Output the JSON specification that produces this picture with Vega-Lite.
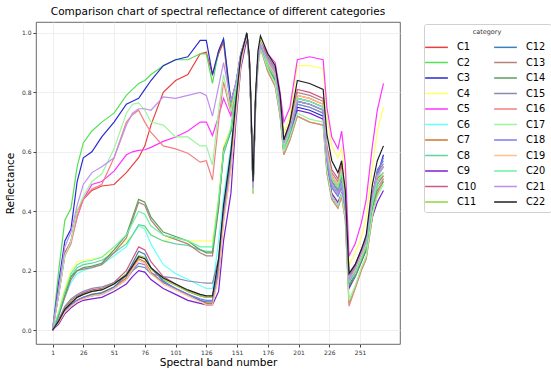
{
"$schema":"https://vega.github.io/schema/vega-lite/v6.json",
"width":364,"height":322,"autosize":"none",
"padding":{"left":36,"top":22,"right":151,"bottom":32},
"background":"white",
"title":{"text":"Comparison chart of spectral reflectance of different categories","fontSize":10.5,"font":"DejaVu Sans","fontWeight":"normal","color":"black","anchor":"middle","offset":5},
"config":{"view":{"stroke":"#444444","strokeWidth":0.8},"font":"DejaVu Sans"},
"data":{"values":[
{"c":"C1","b":1,"v":0},{"c":"C1","b":6,"v":0.12},{"c":"C1","b":11,"v":0.26},{"c":"C1","b":16,"v":0.30},{"c":"C1","b":21,"v":0.40},{"c":"C1","b":26,"v":0.44},{"c":"C1","b":33,"v":0.47},{"c":"C1","b":41,"v":0.485},{"c":"C1","b":51,"v":0.49},{"c":"C1","b":61,"v":0.53},{"c":"C1","b":66,"v":0.555},{"c":"C1","b":71,"v":0.58},{"c":"C1","b":76,"v":0.62},{"c":"C1","b":81,"v":0.69},{"c":"C1","b":91,"v":0.80},{"c":"C1","b":101,"v":0.84},{"c":"C1","b":111,"v":0.86},{"c":"C1","b":121,"v":0.93},{"c":"C1","b":126,"v":0.935},{"c":"C1","b":131,"v":0.86},{"c":"C1","b":136,"v":0.93},{"c":"C1","b":140,"v":0.97},{"c":"C1","b":146,"v":0.74},{"c":"C1","b":150,"v":0.82},{"c":"C1","b":154,"v":0.92},
{"c":"C1","b":159,"v":1.0},{"c":"C1","b":161,"v":0.91},{"c":"C1","b":162,"v":0.79},{"c":"C1","b":164,"v":0.48},{"c":"C1","b":166,"v":0.77},{"c":"C1","b":168,"v":0.92},{"c":"C1","b":170,"v":0.97},{"c":"C1","b":176,"v":0.90},{"c":"C1","b":182,"v":0.86},{"c":"C1","b":186,"v":0.76},{"c":"C1","b":189,"v":0.62},{"c":"C1","b":194,"v":0.68},{"c":"C1","b":200,"v":0.79},{"c":"C1","b":210,"v":0.78},{"c":"C1","b":221,"v":0.76},{"c":"C1","b":224,"v":0.60},{"c":"C1","b":228,"v":0.52},{"c":"C1","b":233,"v":0.49},{"c":"C1","b":236,"v":0.54},{"c":"C1","b":239,"v":0.44},{"c":"C1","b":242,"v":0.17},{"c":"C1","b":247,"v":0.20},{"c":"C1","b":252,"v":0.25},{"c":"C1","b":256,"v":0.29},{"c":"C1","b":261,"v":0.44},{"c":"C1","b":265,"v":0.52},{"c":"C1","b":270,"v":0.55},
{"c":"C2","b":1,"v":0},{"c":"C2","b":6,"v":0.20},{"c":"C2","b":11,"v":0.37},{"c":"C2","b":16,"v":0.41},{"c":"C2","b":21,"v":0.55},{"c":"C2","b":26,"v":0.63},{"c":"C2","b":33,"v":0.67},{"c":"C2","b":41,"v":0.70},{"c":"C2","b":51,"v":0.73},{"c":"C2","b":61,"v":0.79},{"c":"C2","b":66,"v":0.81},{"c":"C2","b":71,"v":0.83},{"c":"C2","b":76,"v":0.84},{"c":"C2","b":81,"v":0.86},{"c":"C2","b":91,"v":0.89},{"c":"C2","b":101,"v":0.91},{"c":"C2","b":111,"v":0.91},{"c":"C2","b":121,"v":0.93},{"c":"C2","b":126,"v":0.93},{"c":"C2","b":131,"v":0.83},{"c":"C2","b":136,"v":0.94},{"c":"C2","b":140,"v":0.98},{"c":"C2","b":146,"v":0.76},{"c":"C2","b":150,"v":0.83},{"c":"C2","b":154,"v":0.93},
{"c":"C2","b":159,"v":0.99},{"c":"C2","b":161,"v":0.89},{"c":"C2","b":162,"v":0.77},{"c":"C2","b":164,"v":0.46},{"c":"C2","b":166,"v":0.74},{"c":"C2","b":168,"v":0.89},{"c":"C2","b":170,"v":0.95},{"c":"C2","b":176,"v":0.87},{"c":"C2","b":182,"v":0.82},{"c":"C2","b":186,"v":0.72},{"c":"C2","b":189,"v":0.59},{"c":"C2","b":194,"v":0.64},{"c":"C2","b":200,"v":0.72},{"c":"C2","b":210,"v":0.70},{"c":"C2","b":221,"v":0.69},{"c":"C2","b":224,"v":0.53},{"c":"C2","b":228,"v":0.44},{"c":"C2","b":233,"v":0.41},{"c":"C2","b":236,"v":0.45},{"c":"C2","b":239,"v":0.37},{"c":"C2","b":242,"v":0.09},{"c":"C2","b":247,"v":0.14},{"c":"C2","b":252,"v":0.20},{"c":"C2","b":256,"v":0.24},{"c":"C2","b":261,"v":0.38},{"c":"C2","b":265,"v":0.46},{"c":"C2","b":270,"v":0.50},
{"c":"C3","b":1,"v":0},{"c":"C3","b":6,"v":0.16},{"c":"C3","b":11,"v":0.30},{"c":"C3","b":16,"v":0.34},{"c":"C3","b":21,"v":0.50},{"c":"C3","b":26,"v":0.58},{"c":"C3","b":33,"v":0.60},{"c":"C3","b":41,"v":0.65},{"c":"C3","b":51,"v":0.70},{"c":"C3","b":61,"v":0.76},{"c":"C3","b":66,"v":0.77},{"c":"C3","b":71,"v":0.78},{"c":"C3","b":76,"v":0.81},{"c":"C3","b":81,"v":0.84},{"c":"C3","b":91,"v":0.89},{"c":"C3","b":101,"v":0.91},{"c":"C3","b":111,"v":0.92},{"c":"C3","b":121,"v":0.975},{"c":"C3","b":126,"v":0.975},{"c":"C3","b":131,"v":0.86},{"c":"C3","b":136,"v":0.94},{"c":"C3","b":140,"v":0.98},{"c":"C3","b":146,"v":0.77},{"c":"C3","b":150,"v":0.83},{"c":"C3","b":154,"v":0.93},
{"c":"C3","b":159,"v":1.0},{"c":"C3","b":161,"v":0.90},{"c":"C3","b":162,"v":0.78},{"c":"C3","b":164,"v":0.48},{"c":"C3","b":166,"v":0.76},{"c":"C3","b":168,"v":0.91},{"c":"C3","b":170,"v":0.96},{"c":"C3","b":176,"v":0.89},{"c":"C3","b":182,"v":0.85},{"c":"C3","b":186,"v":0.74},{"c":"C3","b":189,"v":0.61},{"c":"C3","b":194,"v":0.66},{"c":"C3","b":200,"v":0.75},{"c":"C3","b":210,"v":0.74},{"c":"C3","b":221,"v":0.72},{"c":"C3","b":224,"v":0.56},{"c":"C3","b":228,"v":0.45},{"c":"C3","b":233,"v":0.42},{"c":"C3","b":236,"v":0.45},{"c":"C3","b":239,"v":0.40},{"c":"C3","b":242,"v":0.15},{"c":"C3","b":247,"v":0.19},{"c":"C3","b":252,"v":0.24},{"c":"C3","b":256,"v":0.28},{"c":"C3","b":261,"v":0.43},{"c":"C3","b":265,"v":0.52},{"c":"C3","b":270,"v":0.59},
{"c":"C4","b":1,"v":0},{"c":"C4","b":6,"v":0.06},{"c":"C4","b":11,"v":0.14},{"c":"C4","b":16,"v":0.20},{"c":"C4","b":21,"v":0.23},{"c":"C4","b":26,"v":0.235},{"c":"C4","b":33,"v":0.24},{"c":"C4","b":41,"v":0.245},{"c":"C4","b":51,"v":0.27},{"c":"C4","b":61,"v":0.30},{"c":"C4","b":66,"v":0.32},{"c":"C4","b":71,"v":0.35},{"c":"C4","b":76,"v":0.345},{"c":"C4","b":81,"v":0.32},{"c":"C4","b":91,"v":0.30},{"c":"C4","b":101,"v":0.31},{"c":"C4","b":111,"v":0.30},{"c":"C4","b":121,"v":0.30},{"c":"C4","b":126,"v":0.30},{"c":"C4","b":131,"v":0.30},{"c":"C4","b":136,"v":0.45},{"c":"C4","b":140,"v":0.62},{"c":"C4","b":146,"v":0.68},{"c":"C4","b":150,"v":0.80},{"c":"C4","b":154,"v":0.92},
{"c":"C4","b":159,"v":1.0},{"c":"C4","b":161,"v":0.91},{"c":"C4","b":162,"v":0.79},{"c":"C4","b":164,"v":0.49},{"c":"C4","b":166,"v":0.77},{"c":"C4","b":168,"v":0.92},{"c":"C4","b":170,"v":0.98},{"c":"C4","b":176,"v":0.92},{"c":"C4","b":182,"v":0.89},{"c":"C4","b":186,"v":0.78},{"c":"C4","b":189,"v":0.66},{"c":"C4","b":194,"v":0.72},{"c":"C4","b":200,"v":0.89},{"c":"C4","b":210,"v":0.89},{"c":"C4","b":221,"v":0.88},{"c":"C4","b":224,"v":0.72},{"c":"C4","b":228,"v":0.62},{"c":"C4","b":233,"v":0.58},{"c":"C4","b":236,"v":0.61},{"c":"C4","b":239,"v":0.52},{"c":"C4","b":242,"v":0.22},{"c":"C4","b":247,"v":0.26},{"c":"C4","b":252,"v":0.31},{"c":"C4","b":256,"v":0.38},{"c":"C4","b":261,"v":0.55},{"c":"C4","b":265,"v":0.67},{"c":"C4","b":270,"v":0.75},
{"c":"C5","b":1,"v":0},{"c":"C5","b":6,"v":0.12},{"c":"C5","b":11,"v":0.25},{"c":"C5","b":16,"v":0.30},{"c":"C5","b":21,"v":0.38},{"c":"C5","b":26,"v":0.44},{"c":"C5","b":33,"v":0.49},{"c":"C5","b":41,"v":0.50},{"c":"C5","b":51,"v":0.535},{"c":"C5","b":61,"v":0.59},{"c":"C5","b":66,"v":0.60},{"c":"C5","b":71,"v":0.605},{"c":"C5","b":76,"v":0.607},{"c":"C5","b":81,"v":0.615},{"c":"C5","b":91,"v":0.635},{"c":"C5","b":101,"v":0.65},{"c":"C5","b":111,"v":0.67},{"c":"C5","b":121,"v":0.70},{"c":"C5","b":126,"v":0.70},{"c":"C5","b":131,"v":0.655},{"c":"C5","b":136,"v":0.72},{"c":"C5","b":140,"v":0.78},{"c":"C5","b":146,"v":0.72},{"c":"C5","b":150,"v":0.81},{"c":"C5","b":154,"v":0.92},
{"c":"C5","b":159,"v":0.99},{"c":"C5","b":161,"v":0.90},{"c":"C5","b":162,"v":0.79},{"c":"C5","b":164,"v":0.50},{"c":"C5","b":166,"v":0.77},{"c":"C5","b":168,"v":0.92},{"c":"C5","b":170,"v":0.97},{"c":"C5","b":176,"v":0.93},{"c":"C5","b":182,"v":0.90},{"c":"C5","b":186,"v":0.80},{"c":"C5","b":189,"v":0.70},{"c":"C5","b":194,"v":0.75},{"c":"C5","b":200,"v":0.91},{"c":"C5","b":210,"v":0.92},{"c":"C5","b":221,"v":0.91},{"c":"C5","b":224,"v":0.75},{"c":"C5","b":228,"v":0.65},{"c":"C5","b":233,"v":0.61},{"c":"C5","b":236,"v":0.67},{"c":"C5","b":239,"v":0.56},{"c":"C5","b":242,"v":0.25},{"c":"C5","b":247,"v":0.29},{"c":"C5","b":252,"v":0.36},{"c":"C5","b":256,"v":0.44},{"c":"C5","b":261,"v":0.62},{"c":"C5","b":265,"v":0.74},{"c":"C5","b":270,"v":0.83},
{"c":"C6","b":1,"v":0},{"c":"C6","b":6,"v":0.05},{"c":"C6","b":11,"v":0.11},{"c":"C6","b":16,"v":0.16},{"c":"C6","b":21,"v":0.19},{"c":"C6","b":26,"v":0.20},{"c":"C6","b":33,"v":0.21},{"c":"C6","b":41,"v":0.22},{"c":"C6","b":51,"v":0.25},{"c":"C6","b":61,"v":0.28},{"c":"C6","b":66,"v":0.32},{"c":"C6","b":71,"v":0.35},{"c":"C6","b":76,"v":0.34},{"c":"C6","b":81,"v":0.29},{"c":"C6","b":91,"v":0.22},{"c":"C6","b":101,"v":0.19},{"c":"C6","b":111,"v":0.17},{"c":"C6","b":121,"v":0.15},{"c":"C6","b":126,"v":0.14},{"c":"C6","b":131,"v":0.14},{"c":"C6","b":136,"v":0.30},{"c":"C6","b":140,"v":0.45},{"c":"C6","b":146,"v":0.62},{"c":"C6","b":150,"v":0.76},{"c":"C6","b":154,"v":0.91},
{"c":"C6","b":159,"v":1.0},{"c":"C6","b":161,"v":0.90},{"c":"C6","b":162,"v":0.78},{"c":"C6","b":164,"v":0.48},{"c":"C6","b":166,"v":0.76},{"c":"C6","b":168,"v":0.91},{"c":"C6","b":170,"v":0.96},{"c":"C6","b":176,"v":0.91},{"c":"C6","b":182,"v":0.87},{"c":"C6","b":186,"v":0.76},{"c":"C6","b":189,"v":0.63},{"c":"C6","b":194,"v":0.68},{"c":"C6","b":200,"v":0.77},{"c":"C6","b":210,"v":0.76},{"c":"C6","b":221,"v":0.74},{"c":"C6","b":224,"v":0.58},{"c":"C6","b":228,"v":0.49},{"c":"C6","b":233,"v":0.46},{"c":"C6","b":236,"v":0.49},{"c":"C6","b":239,"v":0.42},{"c":"C6","b":242,"v":0.17},{"c":"C6","b":247,"v":0.21},{"c":"C6","b":252,"v":0.26},{"c":"C6","b":256,"v":0.30},{"c":"C6","b":261,"v":0.45},{"c":"C6","b":265,"v":0.51},{"c":"C6","b":270,"v":0.55},
{"c":"C7","b":1,"v":0},{"c":"C7","b":6,"v":0.025},{"c":"C7","b":11,"v":0.06},{"c":"C7","b":16,"v":0.085},{"c":"C7","b":21,"v":0.10},{"c":"C7","b":26,"v":0.11},{"c":"C7","b":33,"v":0.12},{"c":"C7","b":41,"v":0.125},{"c":"C7","b":51,"v":0.145},{"c":"C7","b":61,"v":0.175},{"c":"C7","b":66,"v":0.21},{"c":"C7","b":71,"v":0.24},{"c":"C7","b":76,"v":0.23},{"c":"C7","b":81,"v":0.195},{"c":"C7","b":91,"v":0.16},{"c":"C7","b":101,"v":0.14},{"c":"C7","b":111,"v":0.12},{"c":"C7","b":121,"v":0.10},{"c":"C7","b":126,"v":0.09},{"c":"C7","b":131,"v":0.09},{"c":"C7","b":136,"v":0.19},{"c":"C7","b":140,"v":0.37},{"c":"C7","b":146,"v":0.55},{"c":"C7","b":150,"v":0.73},{"c":"C7","b":154,"v":0.90},
{"c":"C7","b":159,"v":1.0},{"c":"C7","b":161,"v":0.91},{"c":"C7","b":162,"v":0.79},{"c":"C7","b":164,"v":0.48},{"c":"C7","b":166,"v":0.77},{"c":"C7","b":168,"v":0.92},{"c":"C7","b":170,"v":0.97},{"c":"C7","b":176,"v":0.89},{"c":"C7","b":182,"v":0.85},{"c":"C7","b":186,"v":0.75},{"c":"C7","b":189,"v":0.61},{"c":"C7","b":194,"v":0.67},{"c":"C7","b":200,"v":0.78},{"c":"C7","b":210,"v":0.77},{"c":"C7","b":221,"v":0.75},{"c":"C7","b":224,"v":0.59},{"c":"C7","b":228,"v":0.51},{"c":"C7","b":233,"v":0.48},{"c":"C7","b":236,"v":0.53},{"c":"C7","b":239,"v":0.43},{"c":"C7","b":242,"v":0.16},{"c":"C7","b":247,"v":0.19},{"c":"C7","b":252,"v":0.24},{"c":"C7","b":256,"v":0.28},{"c":"C7","b":261,"v":0.43},{"c":"C7","b":265,"v":0.51},{"c":"C7","b":270,"v":0.53},
{"c":"C8","b":1,"v":0},{"c":"C8","b":6,"v":0.05},{"c":"C8","b":11,"v":0.12},{"c":"C8","b":16,"v":0.18},{"c":"C8","b":21,"v":0.21},{"c":"C8","b":26,"v":0.22},{"c":"C8","b":33,"v":0.225},{"c":"C8","b":41,"v":0.235},{"c":"C8","b":51,"v":0.26},{"c":"C8","b":61,"v":0.29},{"c":"C8","b":66,"v":0.32},{"c":"C8","b":71,"v":0.355},{"c":"C8","b":76,"v":0.35},{"c":"C8","b":81,"v":0.32},{"c":"C8","b":91,"v":0.30},{"c":"C8","b":101,"v":0.29},{"c":"C8","b":111,"v":0.285},{"c":"C8","b":121,"v":0.27},{"c":"C8","b":126,"v":0.265},{"c":"C8","b":131,"v":0.265},{"c":"C8","b":136,"v":0.43},{"c":"C8","b":140,"v":0.59},{"c":"C8","b":146,"v":0.67},{"c":"C8","b":150,"v":0.80},{"c":"C8","b":154,"v":0.92},
{"c":"C8","b":159,"v":1.0},{"c":"C8","b":161,"v":0.91},{"c":"C8","b":162,"v":0.79},{"c":"C8","b":164,"v":0.48},{"c":"C8","b":166,"v":0.77},{"c":"C8","b":168,"v":0.92},{"c":"C8","b":170,"v":0.97},{"c":"C8","b":176,"v":0.88},{"c":"C8","b":182,"v":0.84},{"c":"C8","b":186,"v":0.74},{"c":"C8","b":189,"v":0.60},{"c":"C8","b":194,"v":0.66},{"c":"C8","b":200,"v":0.77},{"c":"C8","b":210,"v":0.76},{"c":"C8","b":221,"v":0.74},{"c":"C8","b":224,"v":0.58},{"c":"C8","b":228,"v":0.50},{"c":"C8","b":233,"v":0.47},{"c":"C8","b":236,"v":0.52},{"c":"C8","b":239,"v":0.42},{"c":"C8","b":242,"v":0.15},{"c":"C8","b":247,"v":0.18},{"c":"C8","b":252,"v":0.23},{"c":"C8","b":256,"v":0.27},{"c":"C8","b":261,"v":0.42},{"c":"C8","b":265,"v":0.48},{"c":"C8","b":270,"v":0.51},
{"c":"C9","b":1,"v":0},{"c":"C9","b":6,"v":0.02},{"c":"C9","b":11,"v":0.055},{"c":"C9","b":16,"v":0.075},{"c":"C9","b":21,"v":0.09},{"c":"C9","b":26,"v":0.10},{"c":"C9","b":33,"v":0.105},{"c":"C9","b":41,"v":0.11},{"c":"C9","b":51,"v":0.13},{"c":"C9","b":61,"v":0.155},{"c":"C9","b":66,"v":0.18},{"c":"C9","b":71,"v":0.20},{"c":"C9","b":76,"v":0.195},{"c":"C9","b":81,"v":0.17},{"c":"C9","b":91,"v":0.14},{"c":"C9","b":101,"v":0.12},{"c":"C9","b":111,"v":0.10},{"c":"C9","b":121,"v":0.09},{"c":"C9","b":126,"v":0.085},{"c":"C9","b":131,"v":0.085},{"c":"C9","b":136,"v":0.13},{"c":"C9","b":140,"v":0.30},{"c":"C9","b":146,"v":0.46},{"c":"C9","b":150,"v":0.70},{"c":"C9","b":154,"v":0.88},
{"c":"C9","b":159,"v":0.98},{"c":"C9","b":161,"v":0.90},{"c":"C9","b":162,"v":0.78},{"c":"C9","b":164,"v":0.48},{"c":"C9","b":166,"v":0.76},{"c":"C9","b":168,"v":0.91},{"c":"C9","b":170,"v":0.96},{"c":"C9","b":176,"v":0.88},{"c":"C9","b":182,"v":0.84},{"c":"C9","b":186,"v":0.73},{"c":"C9","b":189,"v":0.60},{"c":"C9","b":194,"v":0.65},{"c":"C9","b":200,"v":0.74},{"c":"C9","b":210,"v":0.73},{"c":"C9","b":221,"v":0.71},{"c":"C9","b":224,"v":0.55},{"c":"C9","b":228,"v":0.46},{"c":"C9","b":233,"v":0.43},{"c":"C9","b":236,"v":0.46},{"c":"C9","b":239,"v":0.39},{"c":"C9","b":242,"v":0.14},{"c":"C9","b":247,"v":0.18},{"c":"C9","b":252,"v":0.23},{"c":"C9","b":256,"v":0.27},{"c":"C9","b":261,"v":0.38},{"c":"C9","b":265,"v":0.43},{"c":"C9","b":270,"v":0.47},
{"c":"C10","b":1,"v":0},{"c":"C10","b":6,"v":0.035},{"c":"C10","b":11,"v":0.075},{"c":"C10","b":16,"v":0.10},{"c":"C10","b":21,"v":0.115},{"c":"C10","b":26,"v":0.125},{"c":"C10","b":33,"v":0.135},{"c":"C10","b":41,"v":0.14},{"c":"C10","b":51,"v":0.16},{"c":"C10","b":61,"v":0.20},{"c":"C10","b":66,"v":0.24},{"c":"C10","b":71,"v":0.28},{"c":"C10","b":76,"v":0.27},{"c":"C10","b":81,"v":0.23},{"c":"C10","b":91,"v":0.18},{"c":"C10","b":101,"v":0.155},{"c":"C10","b":111,"v":0.13},{"c":"C10","b":121,"v":0.115},{"c":"C10","b":126,"v":0.11},{"c":"C10","b":131,"v":0.11},{"c":"C10","b":136,"v":0.22},{"c":"C10","b":140,"v":0.40},{"c":"C10","b":146,"v":0.58},{"c":"C10","b":150,"v":0.75},{"c":"C10","b":154,"v":0.91},
{"c":"C10","b":159,"v":1.0},{"c":"C10","b":161,"v":0.91},{"c":"C10","b":162,"v":0.79},{"c":"C10","b":164,"v":0.48},{"c":"C10","b":166,"v":0.77},{"c":"C10","b":168,"v":0.92},{"c":"C10","b":170,"v":0.97},{"c":"C10","b":176,"v":0.92},{"c":"C10","b":182,"v":0.88},{"c":"C10","b":186,"v":0.78},{"c":"C10","b":189,"v":0.64},{"c":"C10","b":194,"v":0.70},{"c":"C10","b":200,"v":0.81},{"c":"C10","b":210,"v":0.80},{"c":"C10","b":221,"v":0.78},{"c":"C10","b":224,"v":0.62},{"c":"C10","b":228,"v":0.54},{"c":"C10","b":233,"v":0.51},{"c":"C10","b":236,"v":0.56},{"c":"C10","b":239,"v":0.46},{"c":"C10","b":242,"v":0.19},{"c":"C10","b":247,"v":0.22},{"c":"C10","b":252,"v":0.27},{"c":"C10","b":256,"v":0.31},{"c":"C10","b":261,"v":0.46},{"c":"C10","b":265,"v":0.52},{"c":"C10","b":270,"v":0.55},
{"c":"C11","b":1,"v":0},{"c":"C11","b":6,"v":0.03},{"c":"C11","b":11,"v":0.07},{"c":"C11","b":16,"v":0.095},{"c":"C11","b":21,"v":0.11},{"c":"C11","b":26,"v":0.12},{"c":"C11","b":33,"v":0.13},{"c":"C11","b":41,"v":0.135},{"c":"C11","b":51,"v":0.155},{"c":"C11","b":61,"v":0.19},{"c":"C11","b":66,"v":0.22},{"c":"C11","b":71,"v":0.25},{"c":"C11","b":76,"v":0.245},{"c":"C11","b":81,"v":0.205},{"c":"C11","b":91,"v":0.17},{"c":"C11","b":101,"v":0.15},{"c":"C11","b":111,"v":0.13},{"c":"C11","b":121,"v":0.115},{"c":"C11","b":126,"v":0.11},{"c":"C11","b":131,"v":0.11},{"c":"C11","b":136,"v":0.21},{"c":"C11","b":140,"v":0.39},{"c":"C11","b":146,"v":0.57},{"c":"C11","b":150,"v":0.75},{"c":"C11","b":154,"v":0.91},
{"c":"C11","b":159,"v":1.0},{"c":"C11","b":161,"v":0.90},{"c":"C11","b":162,"v":0.78},{"c":"C11","b":164,"v":0.48},{"c":"C11","b":166,"v":0.76},{"c":"C11","b":168,"v":0.91},{"c":"C11","b":170,"v":0.96},{"c":"C11","b":176,"v":0.90},{"c":"C11","b":182,"v":0.86},{"c":"C11","b":186,"v":0.75},{"c":"C11","b":189,"v":0.62},{"c":"C11","b":194,"v":0.67},{"c":"C11","b":200,"v":0.76},{"c":"C11","b":210,"v":0.75},{"c":"C11","b":221,"v":0.73},{"c":"C11","b":224,"v":0.57},{"c":"C11","b":228,"v":0.48},{"c":"C11","b":233,"v":0.45},{"c":"C11","b":236,"v":0.48},{"c":"C11","b":239,"v":0.41},{"c":"C11","b":242,"v":0.16},{"c":"C11","b":247,"v":0.20},{"c":"C11","b":252,"v":0.25},{"c":"C11","b":256,"v":0.29},{"c":"C11","b":261,"v":0.44},{"c":"C11","b":265,"v":0.50},{"c":"C11","b":270,"v":0.52},
{"c":"C12","b":1,"v":0},{"c":"C12","b":6,"v":0.03},{"c":"C12","b":11,"v":0.065},{"c":"C12","b":16,"v":0.085},{"c":"C12","b":21,"v":0.10},{"c":"C12","b":26,"v":0.11},{"c":"C12","b":33,"v":0.12},{"c":"C12","b":41,"v":0.125},{"c":"C12","b":51,"v":0.145},{"c":"C12","b":61,"v":0.185},{"c":"C12","b":66,"v":0.225},{"c":"C12","b":71,"v":0.265},{"c":"C12","b":76,"v":0.255},{"c":"C12","b":81,"v":0.21},{"c":"C12","b":91,"v":0.165},{"c":"C12","b":101,"v":0.14},{"c":"C12","b":111,"v":0.12},{"c":"C12","b":121,"v":0.10},{"c":"C12","b":126,"v":0.095},{"c":"C12","b":131,"v":0.095},{"c":"C12","b":136,"v":0.21},{"c":"C12","b":140,"v":0.39},{"c":"C12","b":146,"v":0.57},{"c":"C12","b":150,"v":0.75},{"c":"C12","b":154,"v":0.91},
{"c":"C12","b":159,"v":1.0},{"c":"C12","b":161,"v":0.90},{"c":"C12","b":162,"v":0.78},{"c":"C12","b":164,"v":0.48},{"c":"C12","b":166,"v":0.76},{"c":"C12","b":168,"v":0.91},{"c":"C12","b":170,"v":0.96},{"c":"C12","b":176,"v":0.91},{"c":"C12","b":182,"v":0.87},{"c":"C12","b":186,"v":0.76},{"c":"C12","b":189,"v":0.63},{"c":"C12","b":194,"v":0.68},{"c":"C12","b":200,"v":0.77},{"c":"C12","b":210,"v":0.76},{"c":"C12","b":221,"v":0.74},{"c":"C12","b":224,"v":0.58},{"c":"C12","b":228,"v":0.49},{"c":"C12","b":233,"v":0.46},{"c":"C12","b":236,"v":0.49},{"c":"C12","b":239,"v":0.42},{"c":"C12","b":242,"v":0.17},{"c":"C12","b":247,"v":0.21},{"c":"C12","b":252,"v":0.26},{"c":"C12","b":256,"v":0.30},{"c":"C12","b":261,"v":0.45},{"c":"C12","b":265,"v":0.54},{"c":"C12","b":270,"v":0.57},
{"c":"C13","b":1,"v":0},{"c":"C13","b":6,"v":0.05},{"c":"C13","b":11,"v":0.11},{"c":"C13","b":16,"v":0.17},{"c":"C13","b":21,"v":0.20},{"c":"C13","b":26,"v":0.205},{"c":"C13","b":33,"v":0.21},{"c":"C13","b":41,"v":0.22},{"c":"C13","b":51,"v":0.26},{"c":"C13","b":61,"v":0.31},{"c":"C13","b":66,"v":0.37},{"c":"C13","b":71,"v":0.43},{"c":"C13","b":76,"v":0.42},{"c":"C13","b":81,"v":0.37},{"c":"C13","b":91,"v":0.32},{"c":"C13","b":101,"v":0.305},{"c":"C13","b":111,"v":0.29},{"c":"C13","b":121,"v":0.26},{"c":"C13","b":126,"v":0.25},{"c":"C13","b":131,"v":0.25},{"c":"C13","b":136,"v":0.41},{"c":"C13","b":140,"v":0.61},{"c":"C13","b":146,"v":0.67},{"c":"C13","b":150,"v":0.80},{"c":"C13","b":154,"v":0.92},
{"c":"C13","b":159,"v":1.0},{"c":"C13","b":161,"v":0.91},{"c":"C13","b":162,"v":0.79},{"c":"C13","b":164,"v":0.48},{"c":"C13","b":166,"v":0.77},{"c":"C13","b":168,"v":0.92},{"c":"C13","b":170,"v":0.97},{"c":"C13","b":176,"v":0.91},{"c":"C13","b":182,"v":0.87},{"c":"C13","b":186,"v":0.77},{"c":"C13","b":189,"v":0.63},{"c":"C13","b":194,"v":0.69},{"c":"C13","b":200,"v":0.80},{"c":"C13","b":210,"v":0.79},{"c":"C13","b":221,"v":0.77},{"c":"C13","b":224,"v":0.61},{"c":"C13","b":228,"v":0.53},{"c":"C13","b":233,"v":0.50},{"c":"C13","b":236,"v":0.55},{"c":"C13","b":239,"v":0.45},{"c":"C13","b":242,"v":0.18},{"c":"C13","b":247,"v":0.21},{"c":"C13","b":252,"v":0.26},{"c":"C13","b":256,"v":0.30},{"c":"C13","b":261,"v":0.45},{"c":"C13","b":265,"v":0.49},{"c":"C13","b":270,"v":0.52},
{"c":"C14","b":1,"v":0},{"c":"C14","b":6,"v":0.05},{"c":"C14","b":11,"v":0.12},{"c":"C14","b":16,"v":0.18},{"c":"C14","b":21,"v":0.20},{"c":"C14","b":26,"v":0.21},{"c":"C14","b":33,"v":0.215},{"c":"C14","b":41,"v":0.225},{"c":"C14","b":51,"v":0.27},{"c":"C14","b":61,"v":0.32},{"c":"C14","b":66,"v":0.38},{"c":"C14","b":71,"v":0.44},{"c":"C14","b":76,"v":0.43},{"c":"C14","b":81,"v":0.38},{"c":"C14","b":91,"v":0.33},{"c":"C14","b":101,"v":0.315},{"c":"C14","b":111,"v":0.30},{"c":"C14","b":121,"v":0.27},{"c":"C14","b":126,"v":0.26},{"c":"C14","b":131,"v":0.26},{"c":"C14","b":136,"v":0.42},{"c":"C14","b":140,"v":0.60},{"c":"C14","b":146,"v":0.67},{"c":"C14","b":150,"v":0.80},{"c":"C14","b":154,"v":0.92},
{"c":"C14","b":159,"v":1.0},{"c":"C14","b":161,"v":0.91},{"c":"C14","b":162,"v":0.79},{"c":"C14","b":164,"v":0.48},{"c":"C14","b":166,"v":0.77},{"c":"C14","b":168,"v":0.92},{"c":"C14","b":170,"v":0.97},{"c":"C14","b":176,"v":0.88},{"c":"C14","b":182,"v":0.84},{"c":"C14","b":186,"v":0.74},{"c":"C14","b":189,"v":0.60},{"c":"C14","b":194,"v":0.66},{"c":"C14","b":200,"v":0.77},{"c":"C14","b":210,"v":0.76},{"c":"C14","b":221,"v":0.74},{"c":"C14","b":224,"v":0.58},{"c":"C14","b":228,"v":0.50},{"c":"C14","b":233,"v":0.47},{"c":"C14","b":236,"v":0.52},{"c":"C14","b":239,"v":0.42},{"c":"C14","b":242,"v":0.15},{"c":"C14","b":247,"v":0.18},{"c":"C14","b":252,"v":0.23},{"c":"C14","b":256,"v":0.27},{"c":"C14","b":261,"v":0.41},{"c":"C14","b":265,"v":0.47},{"c":"C14","b":270,"v":0.50},
{"c":"C15","b":1,"v":0},{"c":"C15","b":6,"v":0.035},{"c":"C15","b":11,"v":0.08},{"c":"C15","b":16,"v":0.105},{"c":"C15","b":21,"v":0.12},{"c":"C15","b":26,"v":0.13},{"c":"C15","b":33,"v":0.14},{"c":"C15","b":41,"v":0.145},{"c":"C15","b":51,"v":0.16},{"c":"C15","b":61,"v":0.18},{"c":"C15","b":66,"v":0.20},{"c":"C15","b":71,"v":0.215},{"c":"C15","b":76,"v":0.21},{"c":"C15","b":81,"v":0.19},{"c":"C15","b":91,"v":0.18},{"c":"C15","b":101,"v":0.175},{"c":"C15","b":111,"v":0.165},{"c":"C15","b":121,"v":0.16},{"c":"C15","b":126,"v":0.158},{"c":"C15","b":131,"v":0.158},{"c":"C15","b":136,"v":0.24},{"c":"C15","b":140,"v":0.40},{"c":"C15","b":146,"v":0.58},{"c":"C15","b":150,"v":0.76},{"c":"C15","b":154,"v":0.91},
{"c":"C15","b":159,"v":1.0},{"c":"C15","b":161,"v":0.90},{"c":"C15","b":162,"v":0.78},{"c":"C15","b":164,"v":0.48},{"c":"C15","b":166,"v":0.76},{"c":"C15","b":168,"v":0.91},{"c":"C15","b":170,"v":0.96},{"c":"C15","b":176,"v":0.92},{"c":"C15","b":182,"v":0.88},{"c":"C15","b":186,"v":0.77},{"c":"C15","b":189,"v":0.64},{"c":"C15","b":194,"v":0.69},{"c":"C15","b":200,"v":0.78},{"c":"C15","b":210,"v":0.77},{"c":"C15","b":221,"v":0.75},{"c":"C15","b":224,"v":0.59},{"c":"C15","b":228,"v":0.50},{"c":"C15","b":233,"v":0.47},{"c":"C15","b":236,"v":0.50},{"c":"C15","b":239,"v":0.43},{"c":"C15","b":242,"v":0.18},{"c":"C15","b":247,"v":0.22},{"c":"C15","b":252,"v":0.27},{"c":"C15","b":256,"v":0.31},{"c":"C15","b":261,"v":0.46},{"c":"C15","b":265,"v":0.53},{"c":"C15","b":270,"v":0.56},
{"c":"C16","b":1,"v":0},{"c":"C16","b":6,"v":0.12},{"c":"C16","b":11,"v":0.25},{"c":"C16","b":16,"v":0.29},{"c":"C16","b":21,"v":0.38},{"c":"C16","b":26,"v":0.44},{"c":"C16","b":33,"v":0.475},{"c":"C16","b":41,"v":0.49},{"c":"C16","b":51,"v":0.58},{"c":"C16","b":61,"v":0.70},{"c":"C16","b":66,"v":0.725},{"c":"C16","b":71,"v":0.74},{"c":"C16","b":76,"v":0.70},{"c":"C16","b":81,"v":0.665},{"c":"C16","b":91,"v":0.62},{"c":"C16","b":101,"v":0.61},{"c":"C16","b":111,"v":0.595},{"c":"C16","b":121,"v":0.565},{"c":"C16","b":126,"v":0.57},{"c":"C16","b":131,"v":0.505},{"c":"C16","b":136,"v":0.70},{"c":"C16","b":140,"v":0.835},{"c":"C16","b":146,"v":0.73},{"c":"C16","b":150,"v":0.82},{"c":"C16","b":154,"v":0.92},
{"c":"C16","b":159,"v":0.99},{"c":"C16","b":161,"v":0.89},{"c":"C16","b":162,"v":0.77},{"c":"C16","b":164,"v":0.46},{"c":"C16","b":166,"v":0.74},{"c":"C16","b":168,"v":0.89},{"c":"C16","b":170,"v":0.95},{"c":"C16","b":176,"v":0.87},{"c":"C16","b":182,"v":0.82},{"c":"C16","b":186,"v":0.72},{"c":"C16","b":189,"v":0.59},{"c":"C16","b":194,"v":0.64},{"c":"C16","b":200,"v":0.72},{"c":"C16","b":210,"v":0.70},{"c":"C16","b":221,"v":0.69},{"c":"C16","b":224,"v":0.53},{"c":"C16","b":228,"v":0.44},{"c":"C16","b":233,"v":0.41},{"c":"C16","b":236,"v":0.45},{"c":"C16","b":239,"v":0.37},{"c":"C16","b":242,"v":0.08},{"c":"C16","b":247,"v":0.14},{"c":"C16","b":252,"v":0.20},{"c":"C16","b":256,"v":0.24},{"c":"C16","b":261,"v":0.38},{"c":"C16","b":265,"v":0.46},{"c":"C16","b":270,"v":0.51},
{"c":"C17","b":1,"v":0},{"c":"C17","b":6,"v":0.12},{"c":"C17","b":11,"v":0.25},{"c":"C17","b":16,"v":0.30},{"c":"C17","b":21,"v":0.40},{"c":"C17","b":26,"v":0.45},{"c":"C17","b":33,"v":0.50},{"c":"C17","b":41,"v":0.525},{"c":"C17","b":51,"v":0.61},{"c":"C17","b":61,"v":0.73},{"c":"C17","b":66,"v":0.76},{"c":"C17","b":71,"v":0.765},{"c":"C17","b":76,"v":0.74},{"c":"C17","b":81,"v":0.70},{"c":"C17","b":91,"v":0.69},{"c":"C17","b":101,"v":0.65},{"c":"C17","b":111,"v":0.65},{"c":"C17","b":121,"v":0.62},{"c":"C17","b":126,"v":0.62},{"c":"C17","b":131,"v":0.555},{"c":"C17","b":136,"v":0.74},{"c":"C17","b":140,"v":0.86},{"c":"C17","b":146,"v":0.735},{"c":"C17","b":150,"v":0.82},{"c":"C17","b":154,"v":0.92},
{"c":"C17","b":159,"v":0.99},{"c":"C17","b":161,"v":0.89},{"c":"C17","b":162,"v":0.77},{"c":"C17","b":164,"v":0.46},{"c":"C17","b":166,"v":0.74},{"c":"C17","b":168,"v":0.89},{"c":"C17","b":170,"v":0.95},{"c":"C17","b":176,"v":0.88},{"c":"C17","b":182,"v":0.83},{"c":"C17","b":186,"v":0.73},{"c":"C17","b":189,"v":0.60},{"c":"C17","b":194,"v":0.65},{"c":"C17","b":200,"v":0.73},{"c":"C17","b":210,"v":0.71},{"c":"C17","b":221,"v":0.70},{"c":"C17","b":224,"v":0.54},{"c":"C17","b":228,"v":0.45},{"c":"C17","b":233,"v":0.42},{"c":"C17","b":236,"v":0.46},{"c":"C17","b":239,"v":0.38},{"c":"C17","b":242,"v":0.10},{"c":"C17","b":247,"v":0.15},{"c":"C17","b":252,"v":0.21},{"c":"C17","b":256,"v":0.25},{"c":"C17","b":261,"v":0.39},{"c":"C17","b":265,"v":0.45},{"c":"C17","b":270,"v":0.49},
{"c":"C18","b":1,"v":0},{"c":"C18","b":6,"v":0.03},{"c":"C18","b":11,"v":0.065},{"c":"C18","b":16,"v":0.085},{"c":"C18","b":21,"v":0.10},{"c":"C18","b":26,"v":0.11},{"c":"C18","b":33,"v":0.115},{"c":"C18","b":41,"v":0.12},{"c":"C18","b":51,"v":0.14},{"c":"C18","b":61,"v":0.17},{"c":"C18","b":66,"v":0.20},{"c":"C18","b":71,"v":0.225},{"c":"C18","b":76,"v":0.22},{"c":"C18","b":81,"v":0.19},{"c":"C18","b":91,"v":0.16},{"c":"C18","b":101,"v":0.14},{"c":"C18","b":111,"v":0.12},{"c":"C18","b":121,"v":0.105},{"c":"C18","b":126,"v":0.10},{"c":"C18","b":131,"v":0.10},{"c":"C18","b":136,"v":0.20},{"c":"C18","b":140,"v":0.38},{"c":"C18","b":146,"v":0.56},{"c":"C18","b":150,"v":0.74},{"c":"C18","b":154,"v":0.90},
{"c":"C18","b":159,"v":1.0},{"c":"C18","b":161,"v":0.90},{"c":"C18","b":162,"v":0.78},{"c":"C18","b":164,"v":0.48},{"c":"C18","b":166,"v":0.76},{"c":"C18","b":168,"v":0.91},{"c":"C18","b":170,"v":0.96},{"c":"C18","b":176,"v":0.90},{"c":"C18","b":182,"v":0.86},{"c":"C18","b":186,"v":0.75},{"c":"C18","b":189,"v":0.62},{"c":"C18","b":194,"v":0.67},{"c":"C18","b":200,"v":0.76},{"c":"C18","b":210,"v":0.75},{"c":"C18","b":221,"v":0.73},{"c":"C18","b":224,"v":0.57},{"c":"C18","b":228,"v":0.48},{"c":"C18","b":233,"v":0.45},{"c":"C18","b":236,"v":0.48},{"c":"C18","b":239,"v":0.41},{"c":"C18","b":242,"v":0.16},{"c":"C18","b":247,"v":0.20},{"c":"C18","b":252,"v":0.25},{"c":"C18","b":256,"v":0.29},{"c":"C18","b":261,"v":0.44},{"c":"C18","b":265,"v":0.53},{"c":"C18","b":270,"v":0.58},
{"c":"C19","b":1,"v":0},{"c":"C19","b":6,"v":0.025},{"c":"C19","b":11,"v":0.06},{"c":"C19","b":16,"v":0.08},{"c":"C19","b":21,"v":0.095},{"c":"C19","b":26,"v":0.105},{"c":"C19","b":33,"v":0.115},{"c":"C19","b":41,"v":0.12},{"c":"C19","b":51,"v":0.14},{"c":"C19","b":61,"v":0.17},{"c":"C19","b":66,"v":0.205},{"c":"C19","b":71,"v":0.235},{"c":"C19","b":76,"v":0.225},{"c":"C19","b":81,"v":0.19},{"c":"C19","b":91,"v":0.155},{"c":"C19","b":101,"v":0.135},{"c":"C19","b":111,"v":0.115},{"c":"C19","b":121,"v":0.095},{"c":"C19","b":126,"v":0.085},{"c":"C19","b":131,"v":0.085},{"c":"C19","b":136,"v":0.18},{"c":"C19","b":140,"v":0.36},{"c":"C19","b":146,"v":0.54},{"c":"C19","b":150,"v":0.72},{"c":"C19","b":154,"v":0.89},
{"c":"C19","b":159,"v":1.0},{"c":"C19","b":161,"v":0.91},{"c":"C19","b":162,"v":0.79},{"c":"C19","b":164,"v":0.48},{"c":"C19","b":166,"v":0.77},{"c":"C19","b":168,"v":0.92},{"c":"C19","b":170,"v":0.97},{"c":"C19","b":176,"v":0.90},{"c":"C19","b":182,"v":0.86},{"c":"C19","b":186,"v":0.76},{"c":"C19","b":189,"v":0.62},{"c":"C19","b":194,"v":0.68},{"c":"C19","b":200,"v":0.79},{"c":"C19","b":210,"v":0.78},{"c":"C19","b":221,"v":0.76},{"c":"C19","b":224,"v":0.60},{"c":"C19","b":228,"v":0.52},{"c":"C19","b":233,"v":0.49},{"c":"C19","b":236,"v":0.54},{"c":"C19","b":239,"v":0.44},{"c":"C19","b":242,"v":0.17},{"c":"C19","b":247,"v":0.20},{"c":"C19","b":252,"v":0.25},{"c":"C19","b":256,"v":0.29},{"c":"C19","b":261,"v":0.44},{"c":"C19","b":265,"v":0.52},{"c":"C19","b":270,"v":0.55},
{"c":"C20","b":1,"v":0},{"c":"C20","b":6,"v":0.06},{"c":"C20","b":11,"v":0.13},{"c":"C20","b":16,"v":0.19},{"c":"C20","b":21,"v":0.22},{"c":"C20","b":26,"v":0.23},{"c":"C20","b":33,"v":0.235},{"c":"C20","b":41,"v":0.245},{"c":"C20","b":51,"v":0.28},{"c":"C20","b":61,"v":0.32},{"c":"C20","b":66,"v":0.36},{"c":"C20","b":71,"v":0.40},{"c":"C20","b":76,"v":0.39},{"c":"C20","b":81,"v":0.35},{"c":"C20","b":91,"v":0.32},{"c":"C20","b":101,"v":0.31},{"c":"C20","b":111,"v":0.30},{"c":"C20","b":121,"v":0.28},{"c":"C20","b":126,"v":0.28},{"c":"C20","b":131,"v":0.28},{"c":"C20","b":136,"v":0.44},{"c":"C20","b":140,"v":0.60},{"c":"C20","b":146,"v":0.68},{"c":"C20","b":150,"v":0.80},{"c":"C20","b":154,"v":0.92},
{"c":"C20","b":159,"v":1.0},{"c":"C20","b":161,"v":0.91},{"c":"C20","b":162,"v":0.79},{"c":"C20","b":164,"v":0.48},{"c":"C20","b":166,"v":0.77},{"c":"C20","b":168,"v":0.92},{"c":"C20","b":170,"v":0.97},{"c":"C20","b":176,"v":0.89},{"c":"C20","b":182,"v":0.85},{"c":"C20","b":186,"v":0.75},{"c":"C20","b":189,"v":0.61},{"c":"C20","b":194,"v":0.67},{"c":"C20","b":200,"v":0.78},{"c":"C20","b":210,"v":0.77},{"c":"C20","b":221,"v":0.75},{"c":"C20","b":224,"v":0.59},{"c":"C20","b":228,"v":0.51},{"c":"C20","b":233,"v":0.48},{"c":"C20","b":236,"v":0.53},{"c":"C20","b":239,"v":0.43},{"c":"C20","b":242,"v":0.16},{"c":"C20","b":247,"v":0.19},{"c":"C20","b":252,"v":0.24},{"c":"C20","b":256,"v":0.28},{"c":"C20","b":261,"v":0.43},{"c":"C20","b":265,"v":0.50},{"c":"C20","b":270,"v":0.53},
{"c":"C21","b":1,"v":0},{"c":"C21","b":6,"v":0.14},{"c":"C21","b":11,"v":0.28},{"c":"C21","b":16,"v":0.33},{"c":"C21","b":21,"v":0.42},{"c":"C21","b":26,"v":0.49},{"c":"C21","b":33,"v":0.53},{"c":"C21","b":41,"v":0.55},{"c":"C21","b":51,"v":0.58},{"c":"C21","b":61,"v":0.69},{"c":"C21","b":66,"v":0.73},{"c":"C21","b":71,"v":0.745},{"c":"C21","b":76,"v":0.745},{"c":"C21","b":81,"v":0.74},{"c":"C21","b":91,"v":0.785},{"c":"C21","b":101,"v":0.78},{"c":"C21","b":111,"v":0.79},{"c":"C21","b":121,"v":0.80},{"c":"C21","b":126,"v":0.79},{"c":"C21","b":131,"v":0.72},{"c":"C21","b":136,"v":0.82},{"c":"C21","b":140,"v":0.90},{"c":"C21","b":146,"v":0.77},{"c":"C21","b":150,"v":0.83},{"c":"C21","b":154,"v":0.93},
{"c":"C21","b":159,"v":1.0},{"c":"C21","b":161,"v":0.90},{"c":"C21","b":162,"v":0.78},{"c":"C21","b":164,"v":0.48},{"c":"C21","b":166,"v":0.76},{"c":"C21","b":168,"v":0.91},{"c":"C21","b":170,"v":0.96},{"c":"C21","b":176,"v":0.91},{"c":"C21","b":182,"v":0.87},{"c":"C21","b":186,"v":0.76},{"c":"C21","b":189,"v":0.63},{"c":"C21","b":194,"v":0.68},{"c":"C21","b":200,"v":0.77},{"c":"C21","b":210,"v":0.76},{"c":"C21","b":221,"v":0.74},{"c":"C21","b":224,"v":0.58},{"c":"C21","b":228,"v":0.49},{"c":"C21","b":233,"v":0.46},{"c":"C21","b":236,"v":0.49},{"c":"C21","b":239,"v":0.42},{"c":"C21","b":242,"v":0.17},{"c":"C21","b":247,"v":0.21},{"c":"C21","b":252,"v":0.26},{"c":"C21","b":256,"v":0.30},{"c":"C21","b":261,"v":0.45},{"c":"C21","b":265,"v":0.52},{"c":"C21","b":270,"v":0.55},
{"c":"C22","b":1,"v":0},{"c":"C22","b":6,"v":0.03},{"c":"C22","b":11,"v":0.07},{"c":"C22","b":16,"v":0.09},{"c":"C22","b":21,"v":0.11},{"c":"C22","b":26,"v":0.12},{"c":"C22","b":33,"v":0.13},{"c":"C22","b":41,"v":0.135},{"c":"C22","b":51,"v":0.155},{"c":"C22","b":61,"v":0.185},{"c":"C22","b":66,"v":0.215},{"c":"C22","b":71,"v":0.247},{"c":"C22","b":76,"v":0.24},{"c":"C22","b":81,"v":0.21},{"c":"C22","b":91,"v":0.175},{"c":"C22","b":101,"v":0.155},{"c":"C22","b":111,"v":0.135},{"c":"C22","b":121,"v":0.12},{"c":"C22","b":126,"v":0.115},{"c":"C22","b":131,"v":0.115},{"c":"C22","b":136,"v":0.24},{"c":"C22","b":140,"v":0.42},{"c":"C22","b":146,"v":0.60},{"c":"C22","b":150,"v":0.77},{"c":"C22","b":154,"v":0.92},
{"c":"C22","b":159,"v":1.0},{"c":"C22","b":161,"v":0.92},{"c":"C22","b":162,"v":0.81},{"c":"C22","b":164,"v":0.50},{"c":"C22","b":166,"v":0.79},{"c":"C22","b":168,"v":0.94},{"c":"C22","b":170,"v":0.99},{"c":"C22","b":176,"v":0.93},{"c":"C22","b":182,"v":0.89},{"c":"C22","b":186,"v":0.79},{"c":"C22","b":189,"v":0.64},{"c":"C22","b":194,"v":0.70},{"c":"C22","b":200,"v":0.84},{"c":"C22","b":210,"v":0.83},{"c":"C22","b":221,"v":0.81},{"c":"C22","b":224,"v":0.66},{"c":"C22","b":228,"v":0.57},{"c":"C22","b":233,"v":0.53},{"c":"C22","b":236,"v":0.57},{"c":"C22","b":239,"v":0.47},{"c":"C22","b":242,"v":0.19},{"c":"C22","b":247,"v":0.22},{"c":"C22","b":252,"v":0.27},{"c":"C22","b":256,"v":0.32},{"c":"C22","b":261,"v":0.49},{"c":"C22","b":265,"v":0.57},{"c":"C22","b":270,"v":0.62}
]},
"mark":{"type":"line","strokeWidth":1.2,"clip":true},
"encoding":{
"x":{"field":"b","type":"quantitative","scale":{"domain":[-12.45,283.45],"nice":false,"zero":false},
"axis":{"title":"Spectral band number","values":[1,26,51,76,101,126,151,176,201,226,251],"grid":true,"gridColor":"#ebebeb","gridWidth":0.8,"domain":false,"tickColor":"#444444","tickSize":3,"labelFontSize":6,"labelColor":"#333333","labelPadding":2,"titleFontSize":10.5,"titleFontWeight":"normal","titleColor":"black","titlePadding":2}},
"y":{"field":"v","type":"quantitative","scale":{"domain":[-0.047,1.037],"nice":false,"zero":false},
"axis":{"title":"Reflectance","values":[0,0.2,0.4,0.6,0.8,1.0],"format":".1f","grid":true,"gridColor":"#ebebeb","gridWidth":0.8,"domain":false,"tickColor":"#444444","tickSize":3,"labelFontSize":6,"labelColor":"#333333","labelPadding":2,"titleFontSize":10.5,"titleFontWeight":"normal","titleColor":"black","titlePadding":6}},
"color":{"field":"c","type":"nominal",
"scale":{"domain":["C1","C2","C3","C4","C5","C6","C7","C8","C9","C10","C11","C12","C13","C14","C15","C16","C17","C18","C19","C20","C21","C22"],
"range":["#e8403f","#55e055","#2a2ad0","#ffff66","#ff33ff","#66ffff","#d2762e","#5fd3a0","#7b1fd1","#d0578a","#8ed63a","#3f7fbf","#b38080","#5c9e5c","#8a8aad","#f28080","#9cf59c","#7b7bf0","#ffc08a","#66f5a0","#bf8ff0","#202020"]},
"legend":{"title":"category","orient":"none","legendX":388,"legendY":2,"columns":2,"symbolType":"M-1.75,0H1.75","symbolSize":169,"symbolStrokeWidth":1.5,"symbolFillColor":"transparent","labelFontSize":9.8,"labelColor":"black","titleFontSize":6.5,"titleFontWeight":"normal","titleAnchor":"middle","titleColor":"#333333","titlePadding":4,"padding":5,"rowPadding":2.5,"columnPadding":14,"labelOffset":13,"strokeColor":"#d0d0d0","fillColor":"white","cornerRadius":2}}
}
}
